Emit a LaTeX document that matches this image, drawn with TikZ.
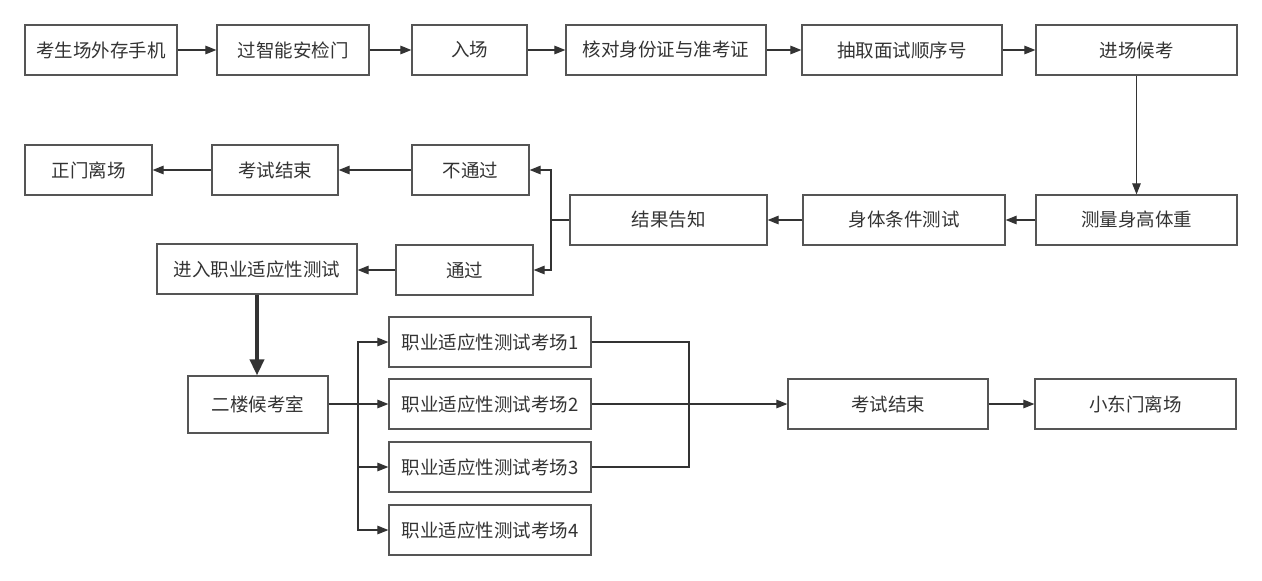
\documentclass[tikz,border=0pt]{standalone}
\usepackage{fontspec}
\usepackage{xcolor}
\usetikzlibrary{arrows.meta, positioning}
\newfontfamily\cjk{Noto Sans CJK SC}
\definecolor{edge}{HTML}{555555}
\definecolor{ink}{HTML}{333333}

\begin{document}
\begin{tikzpicture}[x=1pt, y=-1pt,
    box/.style={draw=edge, line width=1.2pt, minimum height=50pt, inner sep=0pt,
                text=ink, font=\cjk\fontsize{18.5}{21}\selectfont},
    line/.style={draw=ink, line width=1.1pt},
    arr/.style={line, -{Triangle[length=11pt, width=8.5pt]}},
    bigarr/.style={draw=ink, line width=3.6pt, -{Triangle[length=16pt, width=14pt]}}]
    \useasboundingbox (0,0) rectangle (1262,581);

    % top row
    \node[box, minimum width=152pt] (phone) at (101,50) {考生场外存手机};
    \node[box, minimum width=152pt] (gate) at (293,50) {过智能安检门};
    \node[box, minimum width=115pt] (enter) at (469.5,50) {入场};
    \node[box, minimum width=200pt] (check) at (666,50) {核对身份证与准考证};
    \node[box, minimum width=200pt] (draw) at (902,50) {抽取面试顺序号};
    \node[box, minimum width=201pt] (wait) at (1136.5,50) {进场候考};

    % body test
    \node[box, minimum width=201pt] (measure) at (1136.5,220) {测量身高体重};
    \node[box, minimum width=202pt] (body) at (904,220) {身体条件测试};
    \node[box, minimum width=197pt] (result) at (668.5,220) {结果告知};
    \node[box, minimum width=117pt] (nopass) at (470.5,170) {不通过};
    \node[box, minimum width=126pt] (endA) at (275,170) {考试结束};
    \node[box, minimum width=127pt] (mainexit) at (88.5,170) {正门离场};
    \node[box, minimum width=137pt] (pass) at (464.5,270) {通过};
    \node[box, minimum width=200pt] (aptitude) at (257,269) {进入职业适应性测试};

    % aptitude test
    \node[box, minimum width=140pt, minimum height=57pt] (lounge) at (258,404.5) {二楼候考室};
    \node[box, minimum width=202pt] (room1) at (490,342) {职业适应性测试考场1};
    \node[box, minimum width=202pt] (room2) at (490,404) {职业适应性测试考场2};
    \node[box, minimum width=202pt] (room3) at (490,467) {职业适应性测试考场3};
    \node[box, minimum width=202pt] (room4) at (490,530) {职业适应性测试考场4};
    \node[box, minimum width=200pt] (endB) at (888,404) {考试结束};
    \node[box, minimum width=201pt] (eastexit) at (1135.5,404) {小东门离场};

    \coordinate (split) at (551,220);
    \coordinate (fork) at (358,404);
    \coordinate (merge) at (689,404);

    \draw[arr] (phone) -- (gate);
    \draw[arr] (gate) -- (enter);
    \draw[arr] (enter) -- (check);
    \draw[arr] (check) -- (draw);
    \draw[arr] (draw) -- (wait);
    \draw[arr] (wait) -- (measure);
    \draw[arr] (measure) -- (body);
    \draw[arr] (body) -- (result);
    \draw[line] (result.west) -- (split);
    \draw[arr] (split) |- (nopass.east);
    \draw[arr] (split) |- (pass.east);
    \draw[arr] (nopass) -- (endA);
    \draw[arr] (endA) -- (mainexit);
    \draw[arr] (pass.west) -- (aptitude.east |- pass.west);
    \draw[bigarr] (aptitude.south) -- (lounge.north -| aptitude.south);

    \draw[line] (lounge.east |- fork) -- (fork);
    \foreach \i in {1,...,4}
        \draw[arr] (fork) |- (room\i.west);
    \draw[line] (room1.east) -| (merge);
    \draw[line] (room3.east) -| (merge);
    \draw[arr] (room2) -- (endB);
    \draw[arr] (endB) -- (eastexit);
\end{tikzpicture}
\end{document}
